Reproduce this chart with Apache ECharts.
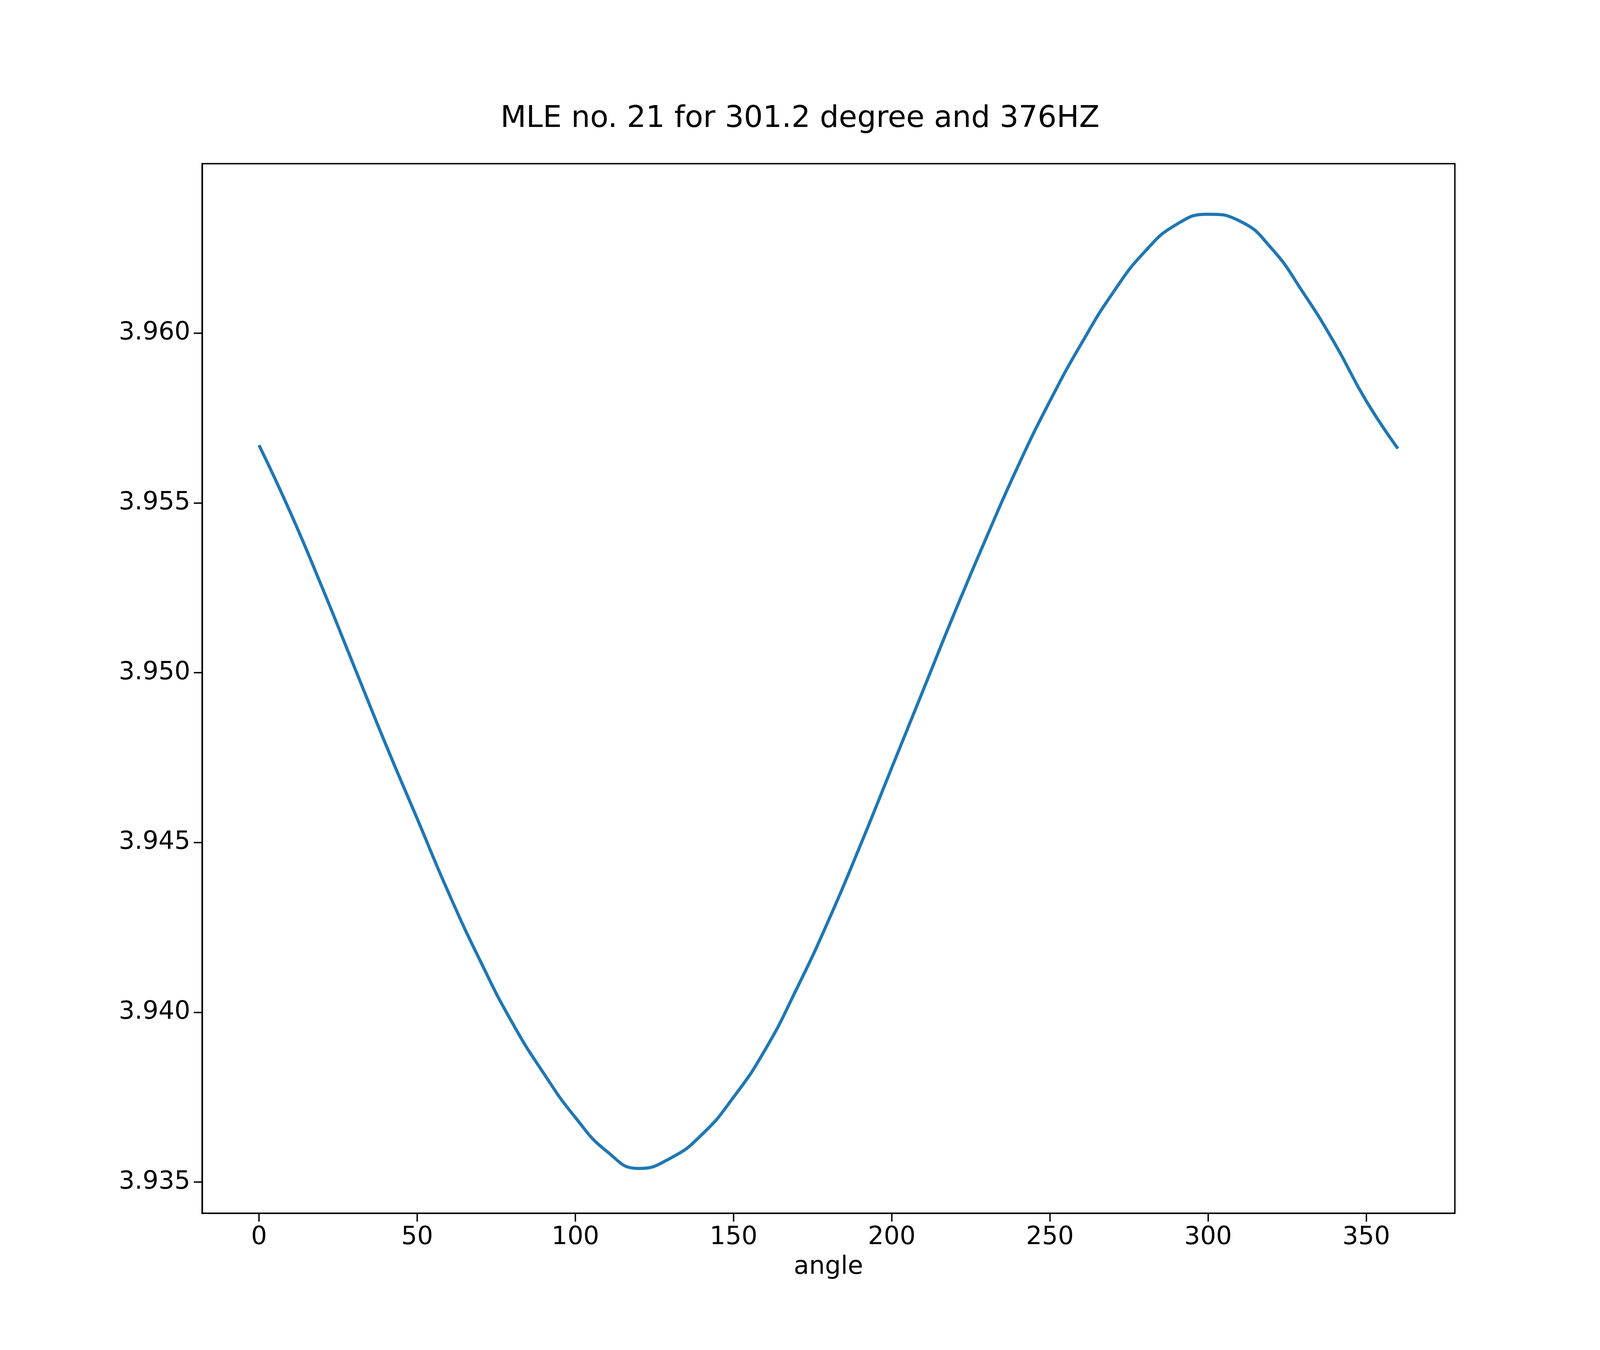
<!DOCTYPE html>
<html><head><meta charset="utf-8">
<script src="https://cdn.jsdelivr.net/npm/echarts@6/dist/echarts.min.js"></script>
<style>html,body{margin:0;padding:0;background:#fff;overflow:hidden}#c{width:100vw;height:100vh}</style>
</head><body><div id="c"></div>
<script>
const angles = [0,10,20,30,40,50,60,70,80,90,100,110,120,130,140,150,160,170,180,190,200,210,220,230,240,250,260,270,280,290,300,310,320,330,340,350,360];
const mle = [3.9567,3.9547,3.9525,3.9502,3.9479,3.9457,3.9435,3.9415,3.9397,3.9382,3.9369,3.9359,3.9354,3.9357,3.9364,3.9375,3.9389,3.9407,3.9427,3.9449,3.9472,3.9495,3.9518,3.9540,3.9561,3.9580,3.9597,3.9612,3.9624,3.9632,3.9635,3.9633,3.9625,3.9612,3.9597,3.9580,3.9566];
const xTicks = [0,50,100,150,200,250,300,350];
const yTicks = [3.935,3.940,3.945,3.950,3.955,3.960];
const chart = echarts.init(document.getElementById('c'));
const W = chart.getWidth(), H = chart.getHeight();
const sx = W/4608, sy = H/3456, s = Math.min(sx, sy);
const font = 'DejaVu Sans';
const gl = 582*sx, gr = 418*sx, gt = 419*sy, gb = 350*sy;
chart.setOption({
  animation:false,
  title:{text:'MLE no. 21 for 301.2 degree and 376HZ',left:'center',top:262*sy,textStyle:{fontFamily:font,fontSize:86*s,fontWeight:'normal',color:'#000'}},
  grid:{left:gl,right:gr,top:gt,bottom:gb},
  xAxis:{type:'value',min:-18,max:378,name:'angle',nameLocation:'middle',nameGap:120*s,
    nameTextStyle:{fontFamily:font,fontSize:72*s,color:'#000'},
    axisLine:{onZero:false,lineStyle:{color:'#000',width:4*s}},
    axisTick:{customValues:xTicks,length:24*s,lineStyle:{color:'#000',width:4*s}},
    axisLabel:{customValues:xTicks,fontFamily:font,fontSize:72*s,color:'#000',margin:34*s},
    splitLine:{show:false}},
  yAxis:{type:'value',min:3.93408,max:3.96499,
    axisLine:{show:true,onZero:false,lineStyle:{color:'#000',width:4*s}},
    axisTick:{show:true,customValues:yTicks,length:24*s,lineStyle:{color:'#000',width:4*s}},
    axisLabel:{customValues:yTicks,fontFamily:font,fontSize:72*s,color:'#000',margin:34*s,formatter:v=>v.toFixed(3)},
    splitLine:{show:false}},
  graphic:[{type:'rect',shape:{x:gl,y:gt,width:W-gl-gr,height:H-gt-gb},style:{fill:'none',stroke:'#000',lineWidth:4*s},z:100}],
  series:[{type:'line',data:angles.map((a,i)=>[a,mle[i]]),smooth:0.5,showSymbol:false,lineStyle:{color:'#1f77b4',width:9*s}}]
});
</script></body></html>
